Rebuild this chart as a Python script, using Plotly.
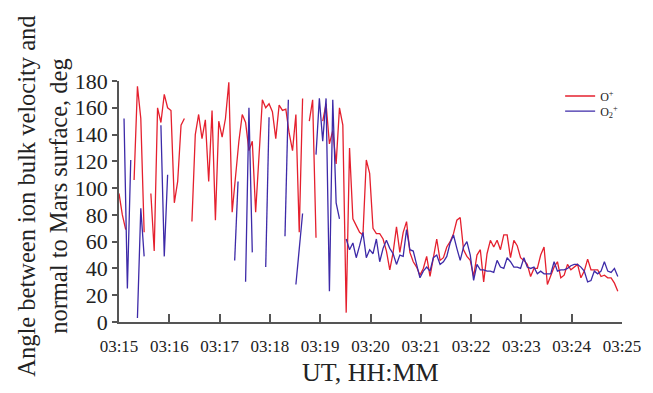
import pandas as pd
import plotly.graph_objects as go

# Sample times in seconds after 03:15:00 UT; None values break the line at data gaps.
O_PLUS_SECONDS = (
    [0, 4, 8, 12]
    + [18, 22, 26, 30, 34]
    + list(range(38, 79, 4)) + [82]
    + list(range(87, 220, 4)) + [223]
    + [227, 231, 235, 239]
    + list(range(243, 596, 4))
)
O_PLUS_DEG = (
    [96, 80, 69, None]
    + [106, 176, 152, 67, None]
    + [96, 53, 160, 149, 170, 160, 158, 89, 105, 147, 152, None]
    + [75, 140, 155, 137, 151, 105, 158, 76, 150, 138, 152, 179, 82, 110, 135, 155, 149,
       128, 135, 82, 120, 166, 160, 163, 157, 137, 162, 158, 159, 141, 128, 155, 67, 167, None]
    + [150, 166, 63, None]
    + [150, 163, 133, 143, 118, 160, 147, 7, 130, 77,
       72, 67, 65, 121, 111, 70, 66, 66, 62, 53,
       39, 52, 71, 52, 67, 75, 52, 45, 41, 35,
       40, 49, 34, 49, 62, 46, 48, 56, 60, 66,
       76, 78, 54, 49, 46, 34, 50, 54, 30, 51,
       61, 56, 61, 54, 65, 65, 48, 61, 57, 48,
       46, 43, 34, 40, 40, 50, 56, 28, 35, 41,
       45, 33, 35, 43, 39, 41, 43, 33, 38, 47,
       39, 39, 39, 34, 35, 33, 33, 29, 23]
)

O2_PLUS_SECONDS = (
    [6, 10, 14, 18]
    + [22, 26, 30, 40]
    + [50, 54, 58, 100]
    + [138, 142, 146]
    + [151, 155, 159, 167]
    + [175, 179, 190]
    + [198, 202, 206]
    + [211, 215, 219, 227]
    + list(range(235, 264, 4)) + [267]
    + list(range(271, 596, 4))
)
O2_PLUS_DEG = (
    [152, 25, 121, None]
    + [3, 85, 49, None]
    + [147, 49, 110, None]
    + [46, 105, None]
    + [30, 160, 52, None]
    + [41, 153, None]
    + [64, 166, None]
    + [28, 55, 81, None]
    + [125, 167, 135, 167, 23, 166, 89, 77, None]
    + [62, 54, 59, 48, 57, 67, 48, 54, 51, 62,
       45, 55, 61, 55, 51, 43, 50, 49, 69, 54,
       53, 43, 33, 38, 41, 38, 48, 50, 43, 45,
       49, 59, 65, 55, 46, 56, 60, 50, 31, 43,
       39, 39, 38, 38, 37, 46, 41, 40, 48, 45,
       41, 41, 40, 48, 41, 40, 41, 36, 38, 36,
       36, 36, 45, 38, 39, 39, 40, 42, 43, 43,
       41, 38, 30, 31, 38, 36, 38, 45, 38, 37,
       40, 34]
)

Y_TICKS = list(range(0, 181, 20))

START = pd.Timestamp("2000-01-01 03:15:00")
END = START + pd.Timedelta(minutes=10)


def to_time(seconds):
    return [START + pd.Timedelta(seconds=s) for s in seconds]


SERIF = "Liberation Serif, Times New Roman, serif"
AXIS_COLOR = "#555555"
TEXT_COLOR = "#222222"

fig = go.Figure()
fig.add_trace(go.Scatter(
    x=to_time(O_PLUS_SECONDS), y=O_PLUS_DEG, mode="lines",
    name="O<sup>+</sup>", line=dict(color="#e5202e", width=1.3),
    connectgaps=False, legend="legend",
))
fig.add_trace(go.Scatter(
    x=to_time(O2_PLUS_SECONDS), y=O2_PLUS_DEG, mode="lines",
    name="O<sub>2</sub><sup>+</sup>", line=dict(color="#3d2aa8", width=1.3),
    connectgaps=False, legend="legend2",
))

legend_style = dict(
    xanchor="left", yanchor="top", bgcolor="rgba(0,0,0,0)",
    font=dict(family=SERIF, size=12, color=TEXT_COLOR), itemwidth=30,
)

fig.update_layout(
    width=653, height=393,
    margin=dict(l=119, r=29, t=81, b=71),
    paper_bgcolor="white", plot_bgcolor="white",
    font=dict(family=SERIF, color=TEXT_COLOR),
    showlegend=True,
    legend=dict(x=0.877, y=0.998, **legend_style),
    legend2=dict(x=0.877, y=0.935, **legend_style),
    xaxis=dict(
        type="date", range=[START, END], dtick=60000, tickformat="%H:%M",
        ticks="inside", ticklen=8, tickcolor=AXIS_COLOR, tickwidth=1.5,
        showline=True, linecolor=AXIS_COLOR, linewidth=1.5,
        showgrid=False, zeroline=False,
        tickfont=dict(family=SERIF, size=17, color=TEXT_COLOR),
        ticklabelstandoff=8,
    ),
    yaxis=dict(
        range=[0, 180], tickvals=Y_TICKS,
        ticks="outside", ticklen=5, tickcolor=AXIS_COLOR, tickwidth=1.5,
        showline=True, linecolor=AXIS_COLOR, linewidth=1.5,
        showgrid=False, zeroline=False,
        tickfont=dict(family=SERIF, size=22, color=TEXT_COLOR),
    ),
    annotations=[
        dict(
            text="Angle between ion bulk velocity and<br>normal to Mars surface, deg",
            xref="paper", yref="paper", x=-0.151, y=0.52,
            xanchor="center", yanchor="middle", textangle=-90, showarrow=False,
            font=dict(family=SERIF, size=24.5, color=TEXT_COLOR),
        ),
        dict(
            text="UT, HH:MM", xref="paper", yref="paper", x=0.5, y=-0.21,
            xanchor="center", yanchor="middle", showarrow=False,
            font=dict(family=SERIF, size=26, color=TEXT_COLOR),
        ),
    ],
)

fig.write_html("out.html")
